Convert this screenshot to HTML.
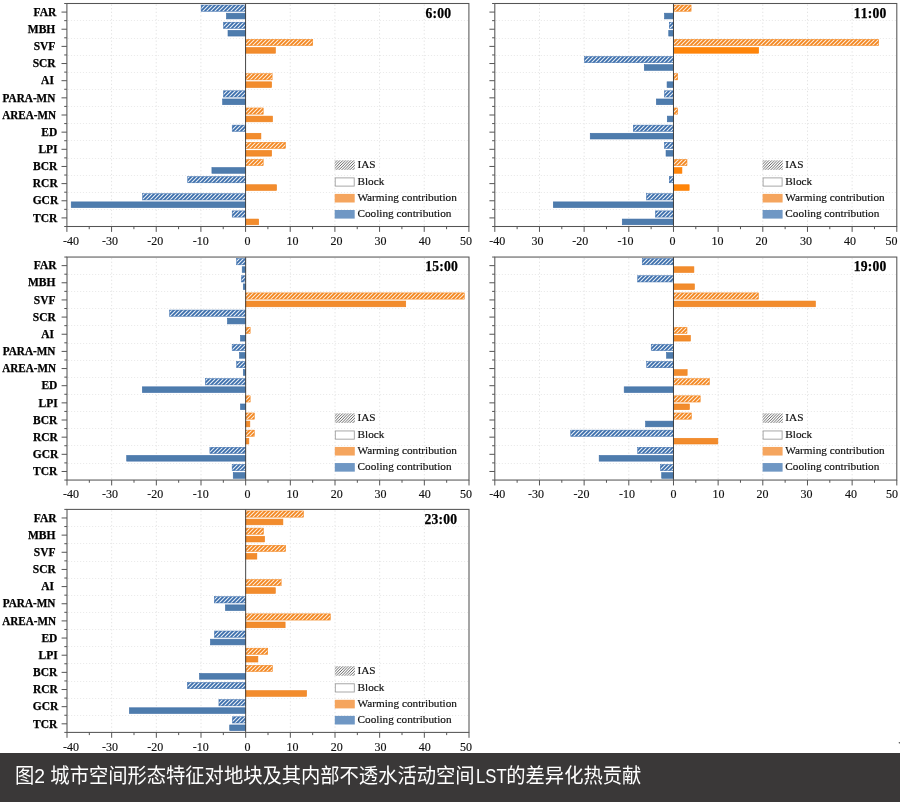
<!DOCTYPE html>
<html lang="zh-CN">
<head>
<meta charset="utf-8">
<title>图2 城市空间形态特征对地块及其内部不透水活动空间LST的差异化热贡献</title>
<style>
html,body{margin:0;padding:0;background:#fff;}
body{width:900px;height:802px;overflow:hidden;position:relative;}
svg{position:absolute;left:0;top:0;display:block;}
svg text{font-family:"Liberation Serif","Times New Roman",serif;fill:#111;}
.xl{font-size:12px;text-anchor:middle;stroke:#111;stroke-width:.15px;}
.yl{font-size:11.5px;font-weight:bold;text-anchor:end;fill:#000;stroke:#000;stroke-width:.25px;}
.tm{font-size:13.6px;font-weight:bold;font-kerning:none;letter-spacing:.22px;fill:#000;stroke:#000;stroke-width:.25px;}
.lg{font-size:11.25px;stroke:#111;stroke-width:.18px;}
.cap{position:absolute;left:0;top:753px;width:900px;height:49px;background:#3a3838;color:#fff;
font-family:"Liberation Sans","Noto Sans CJK SC",sans-serif;font-size:19.3px;line-height:49px;white-space:nowrap;}
.cap span{position:absolute;left:15px;top:-2.5px;transform:scaleY(1.07);transform-origin:left 12px;}
.cap b{font-weight:normal;display:inline-block;transform:scaleX(.865);transform-origin:left center;margin-left:1.2px;margin-right:-4.8px;}
</style>
</head>
<body>
<svg width="900" height="753" viewBox="0 0 900 753">
<defs>
<pattern id="hb" width="4" height="4" patternUnits="userSpaceOnUse"><path d="M-1 1l2-2M0 4l4-4M3 5l2-2" stroke="#3a6dab" stroke-width="1.7"/></pattern>
<pattern id="ho" width="4" height="4" patternUnits="userSpaceOnUse"><path d="M-1 1l2-2M0 4l4-4M3 5l2-2" stroke="#f3861f" stroke-width="1.75"/></pattern>
<pattern id="hg" width="2.75" height="2.75" patternUnits="userSpaceOnUse"><rect width="2.75" height="2.75" fill="#fff"/><path d="M-0.6875 0.6875l1.375-1.375M0 2.75l2.75-2.75M2.0625 3.4375l1.375-1.375" stroke="#555" stroke-width="0.9"/></pattern>
</defs>
<g>
<path d="M111.57 4.5 V225.5 M156.23 4.5 V225.5 M200.9 4.5 V225.5 M290.23 4.5 V225.5 M334.9 4.5 V225.5 M379.57 4.5 V225.5 M424.23 4.5 V225.5" stroke="#e3e3e3" stroke-width="1" stroke-dasharray="1.3 2.3" fill="none"/>
<path d="M67.9 20.5 H467.9 M67.9 38.5 H467.9 M67.9 55.5 H467.9 M67.9 72.5 H467.9 M67.9 89.5 H467.9 M67.9 106.5 H467.9 M67.9 123.5 H467.9 M67.9 140.5 H467.9 M67.9 158.5 H467.9 M67.9 175.5 H467.9 M67.9 192.5 H467.9 M67.9 209.5 H467.9" stroke="#ebebeb" stroke-width="1" stroke-dasharray="1.2 1.8" fill="none"/>
<rect x="200.9" y="4.8" width="44.67" height="6.7" fill="#e4ecf5"/>
<rect x="201.15" y="5.05" width="44.42" height="6.2" fill="url(#hb)" stroke="#3a6dab" stroke-width="0.5"/>
<rect x="226.44" y="13.2" width="19.13" height="5.7" fill="#4e7cad" stroke="#3f6ea6" stroke-width="0.6"/>
<rect x="223.23" y="21.95" width="22.33" height="6.7" fill="#e4ecf5"/>
<rect x="223.48" y="22.2" width="22.08" height="6.2" fill="url(#hb)" stroke="#3a6dab" stroke-width="0.5"/>
<rect x="228" y="30.35" width="17.57" height="5.7" fill="#4e7cad" stroke="#3f6ea6" stroke-width="0.6"/>
<rect x="245.57" y="39.11" width="67.45" height="6.7" fill="#fdebd8"/>
<rect x="245.57" y="39.36" width="67.2" height="6.2" fill="url(#ho)" stroke="#f3861f" stroke-width="0.5"/>
<rect x="245.57" y="47.51" width="29.85" height="5.7" fill="#f28c2d" stroke="#ee7f18" stroke-width="0.6"/>
<rect x="245.57" y="73.42" width="26.8" height="6.7" fill="#fdebd8"/>
<rect x="245.57" y="73.67" width="26.55" height="6.2" fill="url(#ho)" stroke="#f3861f" stroke-width="0.5"/>
<rect x="245.57" y="81.82" width="26.05" height="5.7" fill="#f28c2d" stroke="#ee7f18" stroke-width="0.6"/>
<rect x="223.23" y="90.57" width="22.33" height="6.7" fill="#e4ecf5"/>
<rect x="223.48" y="90.82" width="22.08" height="6.2" fill="url(#hb)" stroke="#3a6dab" stroke-width="0.5"/>
<rect x="222.64" y="98.97" width="22.93" height="5.7" fill="#4e7cad" stroke="#3f6ea6" stroke-width="0.6"/>
<rect x="245.57" y="107.72" width="17.87" height="6.7" fill="#fdebd8"/>
<rect x="245.57" y="107.97" width="17.62" height="6.2" fill="url(#ho)" stroke="#f3861f" stroke-width="0.5"/>
<rect x="245.57" y="116.12" width="26.95" height="5.7" fill="#f28c2d" stroke="#ee7f18" stroke-width="0.6"/>
<rect x="231.94" y="124.88" width="13.62" height="6.7" fill="#e4ecf5"/>
<rect x="232.19" y="125.13" width="13.37" height="6.2" fill="url(#hb)" stroke="#3a6dab" stroke-width="0.5"/>
<rect x="245.57" y="133.28" width="15.33" height="5.7" fill="#f28c2d" stroke="#ee7f18" stroke-width="0.6"/>
<rect x="245.57" y="142.03" width="40.2" height="6.7" fill="#fdebd8"/>
<rect x="245.57" y="142.28" width="39.95" height="6.2" fill="url(#ho)" stroke="#f3861f" stroke-width="0.5"/>
<rect x="245.57" y="150.43" width="26.05" height="5.7" fill="#f28c2d" stroke="#ee7f18" stroke-width="0.6"/>
<rect x="245.57" y="159.18" width="17.87" height="6.7" fill="#fdebd8"/>
<rect x="245.57" y="159.43" width="17.62" height="6.2" fill="url(#ho)" stroke="#f3861f" stroke-width="0.5"/>
<rect x="211.92" y="167.58" width="33.65" height="5.7" fill="#4e7cad" stroke="#3f6ea6" stroke-width="0.6"/>
<rect x="187.5" y="176.34" width="58.07" height="6.7" fill="#e4ecf5"/>
<rect x="187.75" y="176.59" width="57.82" height="6.2" fill="url(#hb)" stroke="#3a6dab" stroke-width="0.5"/>
<rect x="245.57" y="184.74" width="30.97" height="5.7" fill="#f28c2d" stroke="#ee7f18" stroke-width="0.6"/>
<rect x="142.39" y="193.49" width="103.18" height="6.7" fill="#e4ecf5"/>
<rect x="142.64" y="193.74" width="102.93" height="6.2" fill="url(#hb)" stroke="#3a6dab" stroke-width="0.5"/>
<rect x="71.22" y="201.89" width="174.35" height="5.7" fill="#4e7cad" stroke="#3f6ea6" stroke-width="0.6"/>
<rect x="231.94" y="210.65" width="13.62" height="6.7" fill="#e4ecf5"/>
<rect x="232.19" y="210.9" width="13.37" height="6.2" fill="url(#hb)" stroke="#3a6dab" stroke-width="0.5"/>
<rect x="245.57" y="219.05" width="13.1" height="5.7" fill="#f28c2d" stroke="#ee7f18" stroke-width="0.6"/>
<path d="M245.57 3.5 V226.5" stroke="#3c3c3c" stroke-width="0.95" fill="none"/>
<rect x="66.9" y="3.5" width="402" height="223" fill="none" stroke="#555" stroke-width="1.05"/>
<path d="M66.9 226.5 v5.4 M89.23 226.5 v2.7 M111.57 226.5 v5.4 M133.9 226.5 v2.7 M156.23 226.5 v5.4 M178.57 226.5 v2.7 M200.9 226.5 v5.4 M223.23 226.5 v2.7 M245.57 226.5 v5.4 M267.9 226.5 v2.7 M290.23 226.5 v5.4 M312.57 226.5 v2.7 M334.9 226.5 v5.4 M357.23 226.5 v2.7 M379.57 226.5 v5.4 M401.9 226.5 v2.7 M424.23 226.5 v5.4 M446.57 226.5 v2.7 M468.9 226.5 v5.4 M66.9 12.08 h-5.4 M66.9 29.23 h-5.4 M66.9 46.38 h-5.4 M66.9 63.54 h-5.4 M66.9 80.69 h-5.4 M66.9 97.85 h-5.4 M66.9 115 h-5.4 M66.9 132.15 h-5.4 M66.9 149.31 h-5.4 M66.9 166.46 h-5.4 M66.9 183.62 h-5.4 M66.9 200.77 h-5.4 M66.9 217.92 h-5.4 M66.9 3.5 h-2.7 M66.9 20.65 h-2.7 M66.9 37.81 h-2.7 M66.9 54.96 h-2.7 M66.9 72.12 h-2.7 M66.9 89.27 h-2.7 M66.9 106.42 h-2.7 M66.9 123.58 h-2.7 M66.9 140.73 h-2.7 M66.9 157.88 h-2.7 M66.9 175.04 h-2.7 M66.9 192.19 h-2.7 M66.9 209.35 h-2.7 M66.9 226.5 h-2.7" stroke="#555" stroke-width="1" fill="none"/>
<text class="xl" x="71" y="244.6">-40</text>
<text class="xl" x="110" y="244.6">-30</text>
<text class="xl" x="155.25" y="244.6">-20</text>
<text class="xl" x="200.75" y="244.6">-10</text>
<text class="xl" x="247.5" y="244.6">0</text>
<text class="xl" x="292.5" y="244.6">10</text>
<text class="xl" x="336.6" y="244.6">20</text>
<text class="xl" x="380.4" y="244.6">30</text>
<text class="xl" x="424.75" y="244.6">40</text>
<text class="xl" x="466" y="244.6">50</text>
<text class="yl" x="56.4" y="15.78">FAR</text>
<text class="yl" x="55.3" y="32.93">MBH</text>
<text class="yl" x="55.4" y="50.08">SVF</text>
<text class="yl" x="55.7" y="67.24">SCR</text>
<text class="yl" x="53.9" y="84.39">AI</text>
<text class="yl" x="55.3" y="101.55" textLength="52.7" lengthAdjust="spacingAndGlyphs">PARA-MN</text>
<text class="yl" x="56" y="118.7" textLength="53.85" lengthAdjust="spacingAndGlyphs">AREA-MN</text>
<text class="yl" x="57.3" y="135.85">ED</text>
<text class="yl" x="57.6" y="153.01">LPI</text>
<text class="yl" x="57.3" y="170.16">BCR</text>
<text class="yl" x="57.7" y="187.32">RCR</text>
<text class="yl" x="58.2" y="204.47">GCR</text>
<text class="yl" x="57.3" y="221.62">TCR</text>
<text class="tm" x="425.6" y="17.7">6:00</text>
<rect x="334.7" y="160.3" width="20.2" height="9.6" fill="url(#hg)"/>
<rect x="335.2" y="177.9" width="19" height="8.2" fill="#fff" stroke="#999" stroke-width="0.85"/>
<rect x="334.7" y="193.9" width="20" height="8.6" fill="#f5a55e"/>
<rect x="334.7" y="210" width="20" height="8.6" fill="#6f97c4"/>
<text class="lg" x="357.4" y="168.4">IAS</text>
<text class="lg" x="357.4" y="184.7">Block</text>
<text class="lg" x="357.4" y="201">Warming contribution</text>
<text class="lg" x="357.4" y="217.3">Cooling contribution</text>
</g>
<g>
<path d="M539.47 4.5 V225.5 M584.13 4.5 V225.5 M628.8 4.5 V225.5 M718.13 4.5 V225.5 M762.8 4.5 V225.5 M807.47 4.5 V225.5 M852.13 4.5 V225.5" stroke="#e3e3e3" stroke-width="1" stroke-dasharray="1.3 2.3" fill="none"/>
<path d="M495.8 20.5 H895.8 M495.8 38.5 H895.8 M495.8 55.5 H895.8 M495.8 72.5 H895.8 M495.8 89.5 H895.8 M495.8 106.5 H895.8 M495.8 123.5 H895.8 M495.8 140.5 H895.8 M495.8 158.5 H895.8 M495.8 175.5 H895.8 M495.8 192.5 H895.8 M495.8 209.5 H895.8" stroke="#ebebeb" stroke-width="1" stroke-dasharray="1.2 1.8" fill="none"/>
<rect x="673.47" y="4.8" width="17.87" height="6.7" fill="#fdebd8"/>
<rect x="673.47" y="5.05" width="17.62" height="6.2" fill="url(#ho)" stroke="#f3861f" stroke-width="0.5"/>
<rect x="664.52" y="13.2" width="8.95" height="5.7" fill="#4e7cad" stroke="#3f6ea6" stroke-width="0.6"/>
<rect x="669" y="21.95" width="4.47" height="6.7" fill="#e4ecf5"/>
<rect x="669.25" y="22.2" width="4.22" height="6.2" fill="url(#hb)" stroke="#3a6dab" stroke-width="0.5"/>
<rect x="668.76" y="30.35" width="4.7" height="5.7" fill="#4e7cad" stroke="#3f6ea6" stroke-width="0.6"/>
<rect x="673.47" y="39.11" width="205.47" height="6.7" fill="#fdebd8"/>
<rect x="673.47" y="39.36" width="205.22" height="6.2" fill="url(#ho)" stroke="#f3861f" stroke-width="0.5"/>
<rect x="673.47" y="47.51" width="85.19" height="5.7" fill="#ff8509" stroke="#fb7d00" stroke-width="0.6"/>
<rect x="584.13" y="56.26" width="89.33" height="6.7" fill="#e4ecf5"/>
<rect x="584.38" y="56.51" width="89.08" height="6.2" fill="url(#hb)" stroke="#3a6dab" stroke-width="0.5"/>
<rect x="644.29" y="64.66" width="29.18" height="5.7" fill="#4e7cad" stroke="#3f6ea6" stroke-width="0.6"/>
<rect x="673.47" y="73.42" width="4.47" height="6.7" fill="#fdebd8"/>
<rect x="673.47" y="73.67" width="4.22" height="6.2" fill="url(#ho)" stroke="#f3861f" stroke-width="0.5"/>
<rect x="667.07" y="81.82" width="6.4" height="5.7" fill="#4e7cad" stroke="#3f6ea6" stroke-width="0.6"/>
<rect x="664.22" y="90.57" width="9.25" height="6.7" fill="#e4ecf5"/>
<rect x="664.47" y="90.82" width="9" height="6.2" fill="url(#hb)" stroke="#3a6dab" stroke-width="0.5"/>
<rect x="656.35" y="98.97" width="17.12" height="5.7" fill="#4e7cad" stroke="#3f6ea6" stroke-width="0.6"/>
<rect x="673.47" y="107.72" width="4.47" height="6.7" fill="#fdebd8"/>
<rect x="673.47" y="107.97" width="4.22" height="6.2" fill="url(#ho)" stroke="#f3861f" stroke-width="0.5"/>
<rect x="667.29" y="116.12" width="6.18" height="5.7" fill="#4e7cad" stroke="#3f6ea6" stroke-width="0.6"/>
<rect x="633.04" y="124.88" width="40.42" height="6.7" fill="#e4ecf5"/>
<rect x="633.29" y="125.13" width="40.17" height="6.2" fill="url(#hb)" stroke="#3a6dab" stroke-width="0.5"/>
<rect x="590.24" y="133.28" width="83.23" height="5.7" fill="#4e7cad" stroke="#3f6ea6" stroke-width="0.6"/>
<rect x="664.22" y="142.03" width="9.25" height="6.7" fill="#e4ecf5"/>
<rect x="664.47" y="142.28" width="9" height="6.2" fill="url(#hb)" stroke="#3a6dab" stroke-width="0.5"/>
<rect x="666.04" y="150.43" width="7.43" height="5.7" fill="#4e7cad" stroke="#3f6ea6" stroke-width="0.6"/>
<rect x="673.47" y="159.18" width="13.76" height="6.7" fill="#fdebd8"/>
<rect x="673.47" y="159.43" width="13.51" height="6.2" fill="url(#ho)" stroke="#f3861f" stroke-width="0.5"/>
<rect x="673.47" y="167.58" width="8.45" height="5.7" fill="#ff8509" stroke="#fb7d00" stroke-width="0.6"/>
<rect x="669" y="176.34" width="4.47" height="6.7" fill="#e4ecf5"/>
<rect x="669.25" y="176.59" width="4.22" height="6.2" fill="url(#hb)" stroke="#3a6dab" stroke-width="0.5"/>
<rect x="673.47" y="184.74" width="15.69" height="5.7" fill="#ff8509" stroke="#fb7d00" stroke-width="0.6"/>
<rect x="646.22" y="193.49" width="27.25" height="6.7" fill="#e4ecf5"/>
<rect x="646.47" y="193.74" width="27" height="6.2" fill="url(#hb)" stroke="#3a6dab" stroke-width="0.5"/>
<rect x="553.3" y="201.89" width="120.17" height="5.7" fill="#4e7cad" stroke="#3f6ea6" stroke-width="0.6"/>
<rect x="655.24" y="210.65" width="18.22" height="6.7" fill="#e4ecf5"/>
<rect x="655.49" y="210.9" width="17.97" height="6.2" fill="url(#hb)" stroke="#3a6dab" stroke-width="0.5"/>
<rect x="622.27" y="219.05" width="51.2" height="5.7" fill="#4e7cad" stroke="#3f6ea6" stroke-width="0.6"/>
<path d="M673.47 3.5 V226.5" stroke="#3c3c3c" stroke-width="0.95" fill="none"/>
<rect x="494.8" y="3.5" width="402" height="223" fill="none" stroke="#555" stroke-width="1.05"/>
<path d="M494.8 226.5 v5.4 M517.13 226.5 v2.7 M539.47 226.5 v5.4 M561.8 226.5 v2.7 M584.13 226.5 v5.4 M606.47 226.5 v2.7 M628.8 226.5 v5.4 M651.13 226.5 v2.7 M673.47 226.5 v5.4 M695.8 226.5 v2.7 M718.13 226.5 v5.4 M740.47 226.5 v2.7 M762.8 226.5 v5.4 M785.13 226.5 v2.7 M807.47 226.5 v5.4 M829.8 226.5 v2.7 M852.13 226.5 v5.4 M874.47 226.5 v2.7 M896.8 226.5 v5.4 M494.8 12.08 h-5.4 M494.8 29.23 h-5.4 M494.8 46.38 h-5.4 M494.8 63.54 h-5.4 M494.8 80.69 h-5.4 M494.8 97.85 h-5.4 M494.8 115 h-5.4 M494.8 132.15 h-5.4 M494.8 149.31 h-5.4 M494.8 166.46 h-5.4 M494.8 183.62 h-5.4 M494.8 200.77 h-5.4 M494.8 217.92 h-5.4 M494.8 3.5 h-2.7 M494.8 20.65 h-2.7 M494.8 37.81 h-2.7 M494.8 54.96 h-2.7 M494.8 72.12 h-2.7 M494.8 89.27 h-2.7 M494.8 106.42 h-2.7 M494.8 123.58 h-2.7 M494.8 140.73 h-2.7 M494.8 157.88 h-2.7 M494.8 175.04 h-2.7 M494.8 192.19 h-2.7 M494.8 209.35 h-2.7 M494.8 226.5 h-2.7" stroke="#555" stroke-width="1" fill="none"/>
<text class="xl" x="497.25" y="244.6">-40</text>
<text class="xl" x="537.5" y="244.6">30</text>
<text class="xl" x="580.25" y="244.6">-20</text>
<text class="xl" x="625.6" y="244.6">-10</text>
<text class="xl" x="672.5" y="244.6">0</text>
<text class="xl" x="717.5" y="244.6">10</text>
<text class="xl" x="761.5" y="244.6">20</text>
<text class="xl" x="805.9" y="244.6">30</text>
<text class="xl" x="850.1" y="244.6">40</text>
<text class="xl" x="891.4" y="244.6">50</text>
<text class="tm" x="853.8" y="17.7">11:00</text>
<rect x="762.6" y="160.3" width="20.2" height="9.6" fill="url(#hg)"/>
<rect x="763.1" y="177.9" width="19" height="8.2" fill="#fff" stroke="#999" stroke-width="0.85"/>
<rect x="762.6" y="193.9" width="20" height="8.6" fill="#f5a55e"/>
<rect x="762.6" y="210" width="20" height="8.6" fill="#6f97c4"/>
<text class="lg" x="785.3" y="168.4">IAS</text>
<text class="lg" x="785.3" y="184.7">Block</text>
<text class="lg" x="785.3" y="201">Warming contribution</text>
<text class="lg" x="785.3" y="217.3">Cooling contribution</text>
</g>
<g>
<path d="M111.67 258.05 V479.05 M156.33 258.05 V479.05 M201 258.05 V479.05 M290.33 258.05 V479.05 M335 258.05 V479.05 M379.67 258.05 V479.05 M424.33 258.05 V479.05" stroke="#e3e3e3" stroke-width="1" stroke-dasharray="1.3 2.3" fill="none"/>
<path d="M68 274.5 H468 M68 291.5 H468 M68 308.5 H468 M68 325.5 H468 M68 343.5 H468 M68 360.5 H468 M68 377.5 H468 M68 394.5 H468 M68 411.5 H468 M68 428.5 H468 M68 445.5 H468 M68 463.5 H468" stroke="#ebebeb" stroke-width="1" stroke-dasharray="1.2 1.8" fill="none"/>
<rect x="236.42" y="258.35" width="9.25" height="6.7" fill="#e4ecf5"/>
<rect x="236.67" y="258.6" width="9" height="6.2" fill="url(#hb)" stroke="#3a6dab" stroke-width="0.5"/>
<rect x="242.21" y="266.75" width="3.45" height="5.7" fill="#4e7cad" stroke="#3f6ea6" stroke-width="0.6"/>
<rect x="241.2" y="275.5" width="4.47" height="6.7" fill="#e4ecf5"/>
<rect x="241.45" y="275.75" width="4.22" height="6.2" fill="url(#hb)" stroke="#3a6dab" stroke-width="0.5"/>
<rect x="243.29" y="283.9" width="2.38" height="5.7" fill="#4e7cad" stroke="#3f6ea6" stroke-width="0.6"/>
<rect x="245.67" y="292.66" width="218.87" height="6.7" fill="#fdebd8"/>
<rect x="245.67" y="292.91" width="218.62" height="6.2" fill="url(#ho)" stroke="#f3861f" stroke-width="0.5"/>
<rect x="245.67" y="301.06" width="160.05" height="5.7" fill="#f28c2d" stroke="#ee7f18" stroke-width="0.6"/>
<rect x="169.42" y="309.81" width="76.25" height="6.7" fill="#e4ecf5"/>
<rect x="169.67" y="310.06" width="76" height="6.2" fill="url(#hb)" stroke="#3a6dab" stroke-width="0.5"/>
<rect x="227.47" y="318.21" width="18.19" height="5.7" fill="#4e7cad" stroke="#3f6ea6" stroke-width="0.6"/>
<rect x="245.67" y="326.97" width="4.73" height="6.7" fill="#fdebd8"/>
<rect x="245.67" y="327.22" width="4.48" height="6.2" fill="url(#ho)" stroke="#f3861f" stroke-width="0.5"/>
<rect x="240.47" y="335.37" width="5.19" height="5.7" fill="#4e7cad" stroke="#3f6ea6" stroke-width="0.6"/>
<rect x="231.91" y="344.12" width="13.76" height="6.7" fill="#e4ecf5"/>
<rect x="232.16" y="344.37" width="13.51" height="6.2" fill="url(#hb)" stroke="#3a6dab" stroke-width="0.5"/>
<rect x="239.49" y="352.52" width="6.18" height="5.7" fill="#4e7cad" stroke="#3f6ea6" stroke-width="0.6"/>
<rect x="236.42" y="361.27" width="9.25" height="6.7" fill="#e4ecf5"/>
<rect x="236.67" y="361.52" width="9" height="6.2" fill="url(#hb)" stroke="#3a6dab" stroke-width="0.5"/>
<rect x="243.29" y="369.67" width="2.38" height="5.7" fill="#4e7cad" stroke="#3f6ea6" stroke-width="0.6"/>
<rect x="205.15" y="378.43" width="40.51" height="6.7" fill="#e4ecf5"/>
<rect x="205.4" y="378.68" width="40.26" height="6.2" fill="url(#hb)" stroke="#3a6dab" stroke-width="0.5"/>
<rect x="142.34" y="386.83" width="103.33" height="5.7" fill="#4e7cad" stroke="#3f6ea6" stroke-width="0.6"/>
<rect x="245.67" y="395.58" width="4.73" height="6.7" fill="#fdebd8"/>
<rect x="245.67" y="395.83" width="4.48" height="6.2" fill="url(#ho)" stroke="#f3861f" stroke-width="0.5"/>
<rect x="240.47" y="403.98" width="5.19" height="5.7" fill="#4e7cad" stroke="#3f6ea6" stroke-width="0.6"/>
<rect x="245.67" y="412.73" width="8.93" height="6.7" fill="#fdebd8"/>
<rect x="245.67" y="412.98" width="8.68" height="6.2" fill="url(#ho)" stroke="#f3861f" stroke-width="0.5"/>
<rect x="245.67" y="421.13" width="4.17" height="5.7" fill="#f28c2d" stroke="#ee7f18" stroke-width="0.6"/>
<rect x="245.67" y="429.89" width="8.93" height="6.7" fill="#fdebd8"/>
<rect x="245.67" y="430.14" width="8.68" height="6.2" fill="url(#ho)" stroke="#f3861f" stroke-width="0.5"/>
<rect x="245.67" y="438.29" width="3.18" height="5.7" fill="#f28c2d" stroke="#ee7f18" stroke-width="0.6"/>
<rect x="209.67" y="447.04" width="36" height="6.7" fill="#e4ecf5"/>
<rect x="209.92" y="447.29" width="35.75" height="6.2" fill="url(#hb)" stroke="#3a6dab" stroke-width="0.5"/>
<rect x="126.71" y="455.44" width="118.96" height="5.7" fill="#4e7cad" stroke="#3f6ea6" stroke-width="0.6"/>
<rect x="231.91" y="464.2" width="13.76" height="6.7" fill="#e4ecf5"/>
<rect x="232.16" y="464.45" width="13.51" height="6.2" fill="url(#hb)" stroke="#3a6dab" stroke-width="0.5"/>
<rect x="233.24" y="472.6" width="12.43" height="5.7" fill="#4e7cad" stroke="#3f6ea6" stroke-width="0.6"/>
<path d="M245.67 257.05 V480.05" stroke="#3c3c3c" stroke-width="0.95" fill="none"/>
<rect x="67" y="257.05" width="402" height="223" fill="none" stroke="#555" stroke-width="1.05"/>
<path d="M67 480.05 v5.4 M89.33 480.05 v2.7 M111.67 480.05 v5.4 M134 480.05 v2.7 M156.33 480.05 v5.4 M178.67 480.05 v2.7 M201 480.05 v5.4 M223.33 480.05 v2.7 M245.67 480.05 v5.4 M268 480.05 v2.7 M290.33 480.05 v5.4 M312.67 480.05 v2.7 M335 480.05 v5.4 M357.33 480.05 v2.7 M379.67 480.05 v5.4 M402 480.05 v2.7 M424.33 480.05 v5.4 M446.67 480.05 v2.7 M469 480.05 v5.4 M67 265.63 h-5.4 M67 282.78 h-5.4 M67 299.93 h-5.4 M67 317.09 h-5.4 M67 334.24 h-5.4 M67 351.4 h-5.4 M67 368.55 h-5.4 M67 385.7 h-5.4 M67 402.86 h-5.4 M67 420.01 h-5.4 M67 437.17 h-5.4 M67 454.32 h-5.4 M67 471.47 h-5.4 M67 257.05 h-2.7 M67 274.2 h-2.7 M67 291.36 h-2.7 M67 308.51 h-2.7 M67 325.67 h-2.7 M67 342.82 h-2.7 M67 359.97 h-2.7 M67 377.13 h-2.7 M67 394.28 h-2.7 M67 411.43 h-2.7 M67 428.59 h-2.7 M67 445.74 h-2.7 M67 462.9 h-2.7 M67 480.05 h-2.7" stroke="#555" stroke-width="1" fill="none"/>
<text class="xl" x="71.1" y="498.15">-40</text>
<text class="xl" x="110.1" y="498.15">-30</text>
<text class="xl" x="155.35" y="498.15">-20</text>
<text class="xl" x="200.85" y="498.15">-10</text>
<text class="xl" x="247.6" y="498.15">0</text>
<text class="xl" x="292.6" y="498.15">10</text>
<text class="xl" x="336.7" y="498.15">20</text>
<text class="xl" x="380.5" y="498.15">30</text>
<text class="xl" x="424.85" y="498.15">40</text>
<text class="xl" x="466.1" y="498.15">50</text>
<text class="yl" x="56.5" y="269.33">FAR</text>
<text class="yl" x="55.4" y="286.48">MBH</text>
<text class="yl" x="55.5" y="303.63">SVF</text>
<text class="yl" x="55.8" y="320.79">SCR</text>
<text class="yl" x="54" y="337.94">AI</text>
<text class="yl" x="55.4" y="355.1" textLength="52.7" lengthAdjust="spacingAndGlyphs">PARA-MN</text>
<text class="yl" x="56.1" y="372.25" textLength="53.85" lengthAdjust="spacingAndGlyphs">AREA-MN</text>
<text class="yl" x="57.4" y="389.4">ED</text>
<text class="yl" x="57.7" y="406.56">LPI</text>
<text class="yl" x="57.4" y="423.71">BCR</text>
<text class="yl" x="57.8" y="440.87">RCR</text>
<text class="yl" x="58.3" y="458.02">GCR</text>
<text class="yl" x="57.4" y="475.17">TCR</text>
<text class="tm" x="425.3" y="271.25">15:00</text>
<rect x="334.8" y="413.35" width="20.2" height="9.6" fill="url(#hg)"/>
<rect x="335.3" y="430.95" width="19" height="8.2" fill="#fff" stroke="#999" stroke-width="0.85"/>
<rect x="334.8" y="446.95" width="20" height="8.6" fill="#f5a55e"/>
<rect x="334.8" y="463.05" width="20" height="8.6" fill="#6f97c4"/>
<text class="lg" x="357.5" y="421.45">IAS</text>
<text class="lg" x="357.5" y="437.75">Block</text>
<text class="lg" x="357.5" y="454.05">Warming contribution</text>
<text class="lg" x="357.5" y="470.35">Cooling contribution</text>
</g>
<g>
<path d="M539.47 258.05 V479.05 M584.13 258.05 V479.05 M628.8 258.05 V479.05 M718.13 258.05 V479.05 M762.8 258.05 V479.05 M807.47 258.05 V479.05 M852.13 258.05 V479.05" stroke="#e3e3e3" stroke-width="1" stroke-dasharray="1.3 2.3" fill="none"/>
<path d="M495.8 274.5 H895.8 M495.8 291.5 H895.8 M495.8 308.5 H895.8 M495.8 325.5 H895.8 M495.8 343.5 H895.8 M495.8 360.5 H895.8 M495.8 377.5 H895.8 M495.8 394.5 H895.8 M495.8 411.5 H895.8 M495.8 428.5 H895.8 M495.8 445.5 H895.8 M495.8 463.5 H895.8" stroke="#ebebeb" stroke-width="1" stroke-dasharray="1.2 1.8" fill="none"/>
<rect x="641.98" y="258.35" width="31.49" height="6.7" fill="#e4ecf5"/>
<rect x="642.23" y="258.6" width="31.24" height="6.2" fill="url(#hb)" stroke="#3a6dab" stroke-width="0.5"/>
<rect x="673.47" y="266.75" width="20.43" height="5.7" fill="#f28c2d" stroke="#ee7f18" stroke-width="0.6"/>
<rect x="637.47" y="275.5" width="36" height="6.7" fill="#e4ecf5"/>
<rect x="637.72" y="275.75" width="35.75" height="6.2" fill="url(#hb)" stroke="#3a6dab" stroke-width="0.5"/>
<rect x="673.47" y="283.9" width="20.96" height="5.7" fill="#f28c2d" stroke="#ee7f18" stroke-width="0.6"/>
<rect x="673.47" y="292.66" width="85.22" height="6.7" fill="#fdebd8"/>
<rect x="673.47" y="292.91" width="84.97" height="6.2" fill="url(#ho)" stroke="#f3861f" stroke-width="0.5"/>
<rect x="673.47" y="301.06" width="141.96" height="5.7" fill="#f28c2d" stroke="#ee7f18" stroke-width="0.6"/>
<rect x="673.47" y="326.97" width="13.76" height="6.7" fill="#fdebd8"/>
<rect x="673.47" y="327.22" width="13.51" height="6.2" fill="url(#ho)" stroke="#f3861f" stroke-width="0.5"/>
<rect x="673.47" y="335.37" width="16.94" height="5.7" fill="#f28c2d" stroke="#ee7f18" stroke-width="0.6"/>
<rect x="650.95" y="344.12" width="22.51" height="6.7" fill="#e4ecf5"/>
<rect x="651.2" y="344.37" width="22.26" height="6.2" fill="url(#hb)" stroke="#3a6dab" stroke-width="0.5"/>
<rect x="666.53" y="352.52" width="6.94" height="5.7" fill="#4e7cad" stroke="#3f6ea6" stroke-width="0.6"/>
<rect x="646.49" y="361.27" width="26.98" height="6.7" fill="#e4ecf5"/>
<rect x="646.74" y="361.52" width="26.73" height="6.2" fill="url(#hb)" stroke="#3a6dab" stroke-width="0.5"/>
<rect x="673.47" y="369.67" width="13.68" height="5.7" fill="#f28c2d" stroke="#ee7f18" stroke-width="0.6"/>
<rect x="673.47" y="378.43" width="36.18" height="6.7" fill="#fdebd8"/>
<rect x="673.47" y="378.68" width="35.93" height="6.2" fill="url(#ho)" stroke="#f3861f" stroke-width="0.5"/>
<rect x="624.19" y="386.83" width="49.28" height="5.7" fill="#4e7cad" stroke="#3f6ea6" stroke-width="0.6"/>
<rect x="673.47" y="395.58" width="26.98" height="6.7" fill="#fdebd8"/>
<rect x="673.47" y="395.83" width="26.73" height="6.2" fill="url(#ho)" stroke="#f3861f" stroke-width="0.5"/>
<rect x="673.47" y="403.98" width="15.96" height="5.7" fill="#f28c2d" stroke="#ee7f18" stroke-width="0.6"/>
<rect x="673.47" y="412.73" width="18.22" height="6.7" fill="#fdebd8"/>
<rect x="673.47" y="412.98" width="17.97" height="6.2" fill="url(#ho)" stroke="#f3861f" stroke-width="0.5"/>
<rect x="645.63" y="421.13" width="27.84" height="5.7" fill="#4e7cad" stroke="#3f6ea6" stroke-width="0.6"/>
<rect x="570.51" y="429.89" width="102.96" height="6.7" fill="#e4ecf5"/>
<rect x="570.76" y="430.14" width="102.71" height="6.2" fill="url(#hb)" stroke="#3a6dab" stroke-width="0.5"/>
<rect x="673.47" y="438.29" width="44.37" height="5.7" fill="#f28c2d" stroke="#ee7f18" stroke-width="0.6"/>
<rect x="637.47" y="447.04" width="36" height="6.7" fill="#e4ecf5"/>
<rect x="637.72" y="447.29" width="35.75" height="6.2" fill="url(#hb)" stroke="#3a6dab" stroke-width="0.5"/>
<rect x="599.17" y="455.44" width="74.29" height="5.7" fill="#4e7cad" stroke="#3f6ea6" stroke-width="0.6"/>
<rect x="660.07" y="464.2" width="13.4" height="6.7" fill="#e4ecf5"/>
<rect x="660.32" y="464.45" width="13.15" height="6.2" fill="url(#hb)" stroke="#3a6dab" stroke-width="0.5"/>
<rect x="661.71" y="472.6" width="11.76" height="5.7" fill="#4e7cad" stroke="#3f6ea6" stroke-width="0.6"/>
<path d="M673.47 257.05 V480.05" stroke="#3c3c3c" stroke-width="0.95" fill="none"/>
<rect x="494.8" y="257.05" width="402" height="223" fill="none" stroke="#555" stroke-width="1.05"/>
<path d="M494.8 480.05 v5.4 M517.13 480.05 v2.7 M539.47 480.05 v5.4 M561.8 480.05 v2.7 M584.13 480.05 v5.4 M606.47 480.05 v2.7 M628.8 480.05 v5.4 M651.13 480.05 v2.7 M673.47 480.05 v5.4 M695.8 480.05 v2.7 M718.13 480.05 v5.4 M740.47 480.05 v2.7 M762.8 480.05 v5.4 M785.13 480.05 v2.7 M807.47 480.05 v5.4 M829.8 480.05 v2.7 M852.13 480.05 v5.4 M874.47 480.05 v2.7 M896.8 480.05 v5.4 M494.8 265.63 h-5.4 M494.8 282.78 h-5.4 M494.8 299.93 h-5.4 M494.8 317.09 h-5.4 M494.8 334.24 h-5.4 M494.8 351.4 h-5.4 M494.8 368.55 h-5.4 M494.8 385.7 h-5.4 M494.8 402.86 h-5.4 M494.8 420.01 h-5.4 M494.8 437.17 h-5.4 M494.8 454.32 h-5.4 M494.8 471.47 h-5.4 M494.8 257.05 h-2.7 M494.8 274.2 h-2.7 M494.8 291.36 h-2.7 M494.8 308.51 h-2.7 M494.8 325.67 h-2.7 M494.8 342.82 h-2.7 M494.8 359.97 h-2.7 M494.8 377.13 h-2.7 M494.8 394.28 h-2.7 M494.8 411.43 h-2.7 M494.8 428.59 h-2.7 M494.8 445.74 h-2.7 M494.8 462.9 h-2.7 M494.8 480.05 h-2.7" stroke="#555" stroke-width="1" fill="none"/>
<text class="xl" x="497.25" y="498.15">-40</text>
<text class="xl" x="535.9" y="498.15">-30</text>
<text class="xl" x="581.5" y="498.15">-20</text>
<text class="xl" x="627" y="498.15">-10</text>
<text class="xl" x="673.4" y="498.15">0</text>
<text class="xl" x="718.6" y="498.15">10</text>
<text class="xl" x="762.5" y="498.15">20</text>
<text class="xl" x="806.6" y="498.15">30</text>
<text class="xl" x="850.9" y="498.15">40</text>
<text class="xl" x="891.9" y="498.15">50</text>
<text class="tm" x="853.8" y="271.25">19:00</text>
<rect x="762.6" y="413.35" width="20.2" height="9.6" fill="url(#hg)"/>
<rect x="763.1" y="430.95" width="19" height="8.2" fill="#fff" stroke="#999" stroke-width="0.85"/>
<rect x="762.6" y="446.95" width="20" height="8.6" fill="#f5a55e"/>
<rect x="762.6" y="463.05" width="20" height="8.6" fill="#6f97c4"/>
<text class="lg" x="785.3" y="421.45">IAS</text>
<text class="lg" x="785.3" y="437.75">Block</text>
<text class="lg" x="785.3" y="454.05">Warming contribution</text>
<text class="lg" x="785.3" y="470.35">Cooling contribution</text>
</g>
<g>
<path d="M111.67 510.4 V731.4 M156.33 510.4 V731.4 M201 510.4 V731.4 M290.33 510.4 V731.4 M335 510.4 V731.4 M379.67 510.4 V731.4 M424.33 510.4 V731.4" stroke="#e3e3e3" stroke-width="1" stroke-dasharray="1.3 2.3" fill="none"/>
<path d="M68 526.5 H468 M68 543.5 H468 M68 561.5 H468 M68 578.5 H468 M68 595.5 H468 M68 612.5 H468 M68 629.5 H468 M68 646.5 H468 M68 663.5 H468 M68 681.5 H468 M68 698.5 H468 M68 715.5 H468" stroke="#ebebeb" stroke-width="1" stroke-dasharray="1.2 1.8" fill="none"/>
<rect x="245.67" y="510.7" width="58.07" height="6.7" fill="#fdebd8"/>
<rect x="245.67" y="510.95" width="57.82" height="6.2" fill="url(#ho)" stroke="#f3861f" stroke-width="0.5"/>
<rect x="245.67" y="519.1" width="37.22" height="5.7" fill="#f28c2d" stroke="#ee7f18" stroke-width="0.6"/>
<rect x="245.67" y="527.85" width="18" height="6.7" fill="#fdebd8"/>
<rect x="245.67" y="528.1" width="17.75" height="6.2" fill="url(#ho)" stroke="#f3861f" stroke-width="0.5"/>
<rect x="245.67" y="536.25" width="18.91" height="5.7" fill="#f28c2d" stroke="#ee7f18" stroke-width="0.6"/>
<rect x="245.67" y="545.01" width="40.2" height="6.7" fill="#fdebd8"/>
<rect x="245.67" y="545.26" width="39.95" height="6.2" fill="url(#ho)" stroke="#f3861f" stroke-width="0.5"/>
<rect x="245.67" y="553.41" width="11.18" height="5.7" fill="#f28c2d" stroke="#ee7f18" stroke-width="0.6"/>
<rect x="245.67" y="579.32" width="35.73" height="6.7" fill="#fdebd8"/>
<rect x="245.67" y="579.57" width="35.48" height="6.2" fill="url(#ho)" stroke="#f3861f" stroke-width="0.5"/>
<rect x="245.67" y="587.72" width="29.63" height="5.7" fill="#f28c2d" stroke="#ee7f18" stroke-width="0.6"/>
<rect x="214.18" y="596.47" width="31.49" height="6.7" fill="#e4ecf5"/>
<rect x="214.43" y="596.72" width="31.24" height="6.2" fill="url(#hb)" stroke="#3a6dab" stroke-width="0.5"/>
<rect x="225.42" y="604.87" width="20.25" height="5.7" fill="#4e7cad" stroke="#3f6ea6" stroke-width="0.6"/>
<rect x="245.67" y="613.62" width="84.87" height="6.7" fill="#fdebd8"/>
<rect x="245.67" y="613.87" width="84.62" height="6.2" fill="url(#ho)" stroke="#f3861f" stroke-width="0.5"/>
<rect x="245.67" y="622.02" width="39.45" height="5.7" fill="#f28c2d" stroke="#ee7f18" stroke-width="0.6"/>
<rect x="214.18" y="630.78" width="31.49" height="6.7" fill="#e4ecf5"/>
<rect x="214.43" y="631.03" width="31.24" height="6.2" fill="url(#hb)" stroke="#3a6dab" stroke-width="0.5"/>
<rect x="210.46" y="639.18" width="35.21" height="5.7" fill="#4e7cad" stroke="#3f6ea6" stroke-width="0.6"/>
<rect x="245.67" y="647.93" width="22.33" height="6.7" fill="#fdebd8"/>
<rect x="245.67" y="648.18" width="22.08" height="6.2" fill="url(#ho)" stroke="#f3861f" stroke-width="0.5"/>
<rect x="245.67" y="656.33" width="12.21" height="5.7" fill="#f28c2d" stroke="#ee7f18" stroke-width="0.6"/>
<rect x="245.67" y="665.08" width="26.98" height="6.7" fill="#fdebd8"/>
<rect x="245.67" y="665.33" width="26.73" height="6.2" fill="url(#ho)" stroke="#f3861f" stroke-width="0.5"/>
<rect x="199.51" y="673.48" width="46.15" height="5.7" fill="#4e7cad" stroke="#3f6ea6" stroke-width="0.6"/>
<rect x="187.15" y="682.24" width="58.51" height="6.7" fill="#e4ecf5"/>
<rect x="187.4" y="682.49" width="58.26" height="6.2" fill="url(#hb)" stroke="#3a6dab" stroke-width="0.5"/>
<rect x="245.67" y="690.64" width="60.89" height="5.7" fill="#f28c2d" stroke="#ee7f18" stroke-width="0.6"/>
<rect x="218.69" y="699.39" width="26.98" height="6.7" fill="#e4ecf5"/>
<rect x="218.94" y="699.64" width="26.73" height="6.2" fill="url(#hb)" stroke="#3a6dab" stroke-width="0.5"/>
<rect x="129.39" y="707.79" width="116.28" height="5.7" fill="#4e7cad" stroke="#3f6ea6" stroke-width="0.6"/>
<rect x="232.18" y="716.55" width="13.49" height="6.7" fill="#e4ecf5"/>
<rect x="232.43" y="716.8" width="13.24" height="6.2" fill="url(#hb)" stroke="#3a6dab" stroke-width="0.5"/>
<rect x="229.71" y="724.95" width="15.96" height="5.7" fill="#4e7cad" stroke="#3f6ea6" stroke-width="0.6"/>
<path d="M245.67 509.4 V732.4" stroke="#3c3c3c" stroke-width="0.95" fill="none"/>
<rect x="67" y="509.4" width="402" height="223" fill="none" stroke="#555" stroke-width="1.05"/>
<path d="M67 732.4 v5.4 M89.33 732.4 v2.7 M111.67 732.4 v5.4 M134 732.4 v2.7 M156.33 732.4 v5.4 M178.67 732.4 v2.7 M201 732.4 v5.4 M223.33 732.4 v2.7 M245.67 732.4 v5.4 M268 732.4 v2.7 M290.33 732.4 v5.4 M312.67 732.4 v2.7 M335 732.4 v5.4 M357.33 732.4 v2.7 M379.67 732.4 v5.4 M402 732.4 v2.7 M424.33 732.4 v5.4 M446.67 732.4 v2.7 M469 732.4 v5.4 M67 517.98 h-5.4 M67 535.13 h-5.4 M67 552.28 h-5.4 M67 569.44 h-5.4 M67 586.59 h-5.4 M67 603.75 h-5.4 M67 620.9 h-5.4 M67 638.05 h-5.4 M67 655.21 h-5.4 M67 672.36 h-5.4 M67 689.52 h-5.4 M67 706.67 h-5.4 M67 723.82 h-5.4 M67 509.4 h-2.7 M67 526.55 h-2.7 M67 543.71 h-2.7 M67 560.86 h-2.7 M67 578.02 h-2.7 M67 595.17 h-2.7 M67 612.32 h-2.7 M67 629.48 h-2.7 M67 646.63 h-2.7 M67 663.78 h-2.7 M67 680.94 h-2.7 M67 698.09 h-2.7 M67 715.25 h-2.7 M67 732.4 h-2.7" stroke="#555" stroke-width="1" fill="none"/>
<text class="xl" x="71.1" y="750.5">-40</text>
<text class="xl" x="110.1" y="750.5">-30</text>
<text class="xl" x="155.35" y="750.5">-20</text>
<text class="xl" x="200.85" y="750.5">-10</text>
<text class="xl" x="247.6" y="750.5">0</text>
<text class="xl" x="292.6" y="750.5">10</text>
<text class="xl" x="336.7" y="750.5">20</text>
<text class="xl" x="380.5" y="750.5">30</text>
<text class="xl" x="424.85" y="750.5">40</text>
<text class="xl" x="466.1" y="750.5">50</text>
<text class="yl" x="56.5" y="521.68">FAR</text>
<text class="yl" x="55.4" y="538.83">MBH</text>
<text class="yl" x="55.5" y="555.98">SVF</text>
<text class="yl" x="55.8" y="573.14">SCR</text>
<text class="yl" x="54" y="590.29">AI</text>
<text class="yl" x="55.4" y="607.45" textLength="52.7" lengthAdjust="spacingAndGlyphs">PARA-MN</text>
<text class="yl" x="56.1" y="624.6" textLength="53.85" lengthAdjust="spacingAndGlyphs">AREA-MN</text>
<text class="yl" x="57.4" y="641.75">ED</text>
<text class="yl" x="57.7" y="658.91">LPI</text>
<text class="yl" x="57.4" y="676.06">BCR</text>
<text class="yl" x="57.8" y="693.22">RCR</text>
<text class="yl" x="58.3" y="710.37">GCR</text>
<text class="yl" x="57.4" y="727.52">TCR</text>
<text class="tm" x="424.4" y="523.6">23:00</text>
<rect x="334.8" y="666.2" width="20.2" height="9.6" fill="url(#hg)"/>
<rect x="335.3" y="683.8" width="19" height="8.2" fill="#fff" stroke="#999" stroke-width="0.85"/>
<rect x="334.8" y="699.8" width="20" height="8.6" fill="#f5a55e"/>
<rect x="334.8" y="715.9" width="20" height="8.6" fill="#6f97c4"/>
<text class="lg" x="357.5" y="674.3">IAS</text>
<text class="lg" x="357.5" y="690.6">Block</text>
<text class="lg" x="357.5" y="706.9">Warming contribution</text>
<text class="lg" x="357.5" y="723.2">Cooling contribution</text>
</g>
<circle cx="899.4" cy="742.7" r="0.75" fill="#555"/>
</svg>
<div class="cap"><span>图2 城市空间形态特征对地块及其内部不透水活动空间<b>LST</b>的差异化热贡献</span></div>
</body>
</html>
